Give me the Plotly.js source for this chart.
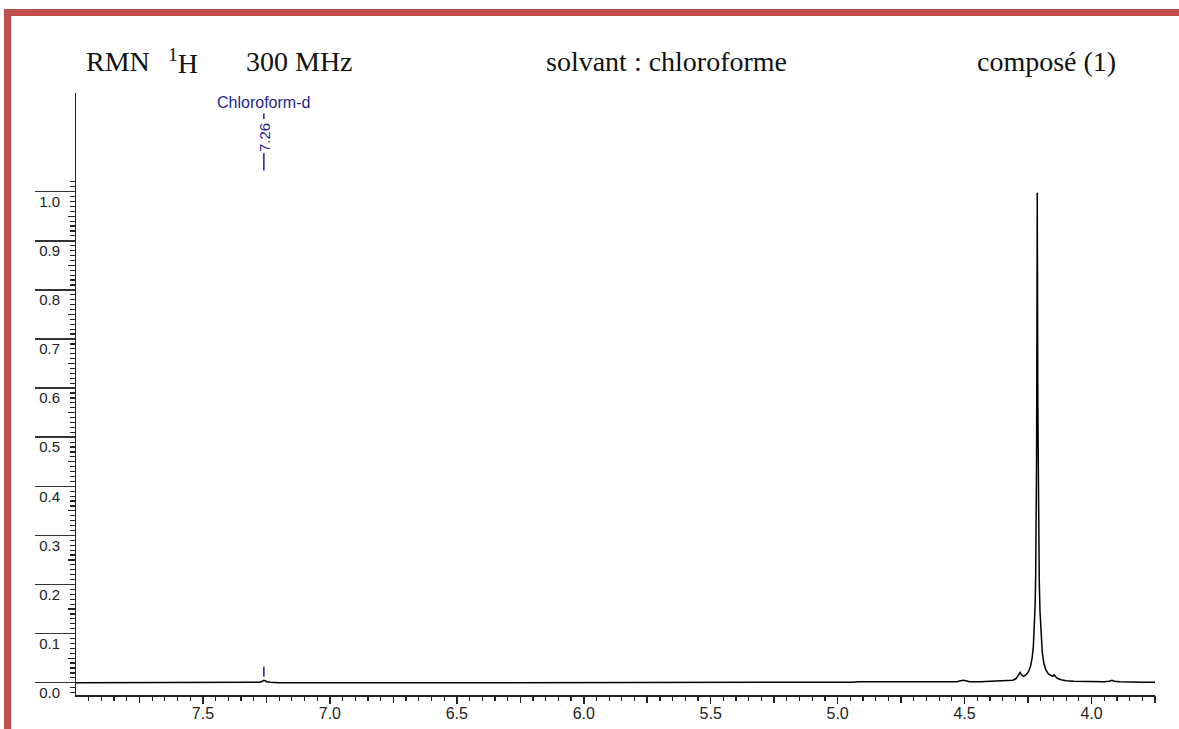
<!DOCTYPE html>
<html>
<head>
<meta charset="utf-8">
<script src="https://cdn.plot.ly/plotly-3.0.1.min.js"></script>
<style>
  html, body { margin: 0; padding: 0; background: #ffffff; }
  #frame { position: absolute; left: 4px; top: 9px; width: 1175px; height: 720px;
           border-top: 7px solid #c0504d; border-left: 7px solid #c0504d; box-sizing: border-box; }
  #chart { position: absolute; left: 0; top: 0; width: 1179px; height: 729px; }
</style>
</head>
<body>
<div id="frame"></div>
<div id="chart"></div>
<script>
// ---- data ----
const ppm = [8.00, 7.40, 7.29, 7.275, 7.266, 7.260, 7.255, 7.248, 7.235, 7.20, 6.50, 5.60, 5.57, 5.55, 5.53,
  5.00, 4.94, 4.92, 4.70, 4.60, 4.53, 4.515, 4.505, 4.495, 4.48, 4.44, 4.40, 4.36, 4.33, 4.31, 4.298, 4.290,
  4.285, 4.281, 4.276, 4.268, 4.258, 4.248, 4.240, 4.234, 4.229, 4.225, 4.222, 4.220, 4.218, 4.2165, 4.2155,
  4.2148, 4.2142, 4.2138, 4.2132, 4.2125, 4.2115, 4.210, 4.208, 4.206, 4.203, 4.199, 4.194, 4.188, 4.180,
  4.170, 4.160, 4.153, 4.148, 4.143, 4.135, 4.120, 4.100, 4.070, 4.00, 3.95, 3.930, 3.920, 3.910, 3.89, 3.80, 3.74];
const intensity = [0.000, 0.000, 0.000, 0.001, 0.003, 0.005, 0.004, 0.002, 0.001, 0.000, 0.000, 0.000, 0.001, 0.001, 0.000,
  0.000, 0.001, 0.002, 0.002, 0.002, 0.002, 0.004, 0.005, 0.004, 0.002, 0.002, 0.003, 0.003, 0.004, 0.005, 0.008, 0.014,
  0.020, 0.021, 0.016, 0.013, 0.016, 0.023, 0.034, 0.050, 0.075, 0.11, 0.16, 0.22, 0.31, 0.45, 0.62,
  0.80, 0.96, 0.998, 0.93, 0.75, 0.57, 0.40, 0.29, 0.21, 0.145, 0.095, 0.062, 0.040, 0.026,
  0.018, 0.014, 0.013, 0.016, 0.013, 0.009, 0.006, 0.004, 0.003, 0.002, 0.002, 0.003, 0.005, 0.003, 0.002, 0.001, 0.001];

const xTickVals = [7.5, 7.0, 6.5, 6.0, 5.5, 5.0, 4.5, 4.0];
const xTickText = ['7.5', '7.0', '6.5', '6.0', '5.5', '5.0', '4.5', '4.0'];
const xMidVals = [7.75, 7.25, 6.75, 6.25, 5.75, 5.25, 4.75, 4.25, 3.75];
const yTickVals = [0.0, 0.1, 0.2, 0.3, 0.4, 0.5, 0.6, 0.7, 0.8, 0.9, 1.0];
const yTickText = ['0.0', '0.1', '0.2', '0.3', '0.4', '0.5', '0.6', '0.7', '0.8', '0.9', '1.0'];
const yMidVals = [0.05, 0.15, 0.25, 0.35, 0.45, 0.55, 0.65, 0.75, 0.85, 0.95];

const solventName = 'Chloroform-d';
const solventPpm = 7.26;
const solventLabel = '7.26';

const titleLeft1 = 'RMN';
const titleLeft2 = '<sup>1</sup>H';
const titleLeft3 = '300 MHz';
const titleMid = 'solvant : chloroforme';
const titleRight = 'composé (1)';

// ---- layout geometry ----
const W = 1179, H = 729;
const M = { l: 76, r: 24, t: 93, b: 34 };
const pw = W - M.l - M.r, ph = H - M.t - M.b;
const px2paperX = (px) => (px - M.l) / pw;
const py2paperY = (py) => (H - M.b - py) / ph;

const xRange = [8.0, 3.75];
const yRange = [-0.025, 1.201];

// minor tick positions
const xMinor = [];
for (let v = 795; v >= 375; v -= 5) xMinor.push(v / 100);
const yMinor = [];
for (let v = -2; v <= 102; v += 1) yMinor.push(v / 100);

const blue = '#1f1f8f';
const axisCol = '#222222';

const traces = [
  { x: ppm, y: intensity, type: 'scatter', mode: 'lines', line: { color: '#000000', width: 1.5 },
    xaxis: 'x', yaxis: 'y', hoverinfo: 'skip' },
  { x: [], y: [], type: 'scatter', mode: 'lines', xaxis: 'x', yaxis: 'y2', hoverinfo: 'skip' },
  { x: [], y: [], type: 'scatter', mode: 'lines', xaxis: 'x', yaxis: 'y3', hoverinfo: 'skip' },
  { x: [], y: [], type: 'scatter', mode: 'lines', xaxis: 'x2', yaxis: 'y', hoverinfo: 'skip' }
];

const serif = { family: 'Liberation Serif, Times New Roman, serif', size: 28, color: '#111111' };
const sans = 'Liberation Sans, Arial, sans-serif';

const annotations = [
  { text: titleLeft1, xref: 'paper', yref: 'paper', x: px2paperX(84), y: py2paperY(62), xanchor: 'left', yanchor: 'middle', showarrow: false, font: serif },
  { text: titleLeft2, xref: 'paper', yref: 'paper', x: px2paperX(166), y: py2paperY(62), xanchor: 'left', yanchor: 'middle', showarrow: false, font: serif },
  { text: titleLeft3, xref: 'paper', yref: 'paper', x: px2paperX(244), y: py2paperY(62), xanchor: 'left', yanchor: 'middle', showarrow: false, font: serif },
  { text: titleMid, xref: 'paper', yref: 'paper', x: px2paperX(666), y: py2paperY(62), xanchor: 'center', yanchor: 'middle', showarrow: false, font: serif },
  { text: titleRight, xref: 'paper', yref: 'paper', x: px2paperX(1118), y: py2paperY(62), xanchor: 'right', yanchor: 'middle', showarrow: false, font: serif },
  { text: solventName, xref: 'x', yref: 'y', x: solventPpm, y: 1.181, xanchor: 'center', yanchor: 'middle', showarrow: false,
    font: { family: sans, size: 16, color: blue } },
  { text: solventLabel, xref: 'x', yref: 'y', x: solventPpm, y: 1.111, xanchor: 'center', yanchor: 'middle', textangle: -90, showarrow: false,
    font: { family: sans, size: 15, color: blue } }
];

const shapes = [
  { type: 'line', xref: 'x', yref: 'y', x0: solventPpm, x1: solventPpm, y0: 1.148, y1: 1.159, line: { color: blue, width: 1.5 } },
  { type: 'line', xref: 'x', yref: 'y', x0: solventPpm, x1: solventPpm, y0: 1.043, y1: 1.079, line: { color: blue, width: 1.5 } },
  { type: 'line', xref: 'x', yref: 'y', x0: solventPpm, x1: solventPpm, y0: 0.012, y1: 0.033, line: { color: blue, width: 1.5 } }
];

const layout = {
  width: W, height: H, autosize: false,
  margin: M,
  paper_bgcolor: 'rgba(0,0,0,0)', plot_bgcolor: 'rgba(0,0,0,0)',
  showlegend: false,
  xaxis: {
    range: xRange, showgrid: false, zeroline: false,
    showline: true, linecolor: axisCol, linewidth: 1.5,
    tickmode: 'array', tickvals: xTickVals, ticktext: xTickText,
    ticks: 'outside', ticklen: 7, tickwidth: 1.5, tickcolor: axisCol,
    ticklabelstandoff: -4,
    tickfont: { family: sans, size: 16, color: '#222222' },
    minor: { tickmode: 'array', tickvals: xMinor, ticks: 'outside', ticklen: 4, tickwidth: 1.2, tickcolor: axisCol, showgrid: false },
    fixedrange: true
  },
  xaxis2: {
    overlaying: 'x', anchor: 'y', side: 'bottom', range: xRange,
    showgrid: false, zeroline: false, showline: false,
    tickmode: 'array', tickvals: xMidVals, showticklabels: false,
    ticks: 'outside', ticklen: 7, tickwidth: 1.5, tickcolor: axisCol,
    fixedrange: true
  },
  yaxis: {
    range: yRange, showgrid: false, zeroline: false,
    showline: true, linecolor: axisCol, linewidth: 1.5,
    tickmode: 'array', tickvals: yTickVals, showticklabels: false,
    ticks: 'outside', ticklen: 40, tickwidth: 1.5, tickcolor: '#333333',
    minor: { tickmode: 'array', tickvals: yMinor, ticks: 'outside', ticklen: 5, tickwidth: 1.2, tickcolor: axisCol, showgrid: false },
    fixedrange: true
  },
  yaxis2: {
    overlaying: 'y', anchor: 'x', side: 'left', range: yRange,
    showgrid: false, zeroline: false, showline: false,
    tickmode: 'array', tickvals: yTickVals, ticktext: yTickText,
    ticks: 'outside', ticklen: 12, tickcolor: 'rgba(0,0,0,0)',
    ticklabelshift: 10,
    tickfont: { family: sans, size: 15, color: '#222222' },
    fixedrange: true
  },
  yaxis3: {
    overlaying: 'y', anchor: 'x', side: 'left', range: yRange,
    showgrid: false, zeroline: false, showline: false,
    tickmode: 'array', tickvals: yMidVals, showticklabels: false,
    ticks: 'outside', ticklen: 7, tickwidth: 1.2, tickcolor: axisCol,
    fixedrange: true
  },
  annotations: annotations,
  shapes: shapes
};

Plotly.newPlot('chart', traces, layout, { staticPlot: true, displayModeBar: false });
</script>
</body>
</html>
